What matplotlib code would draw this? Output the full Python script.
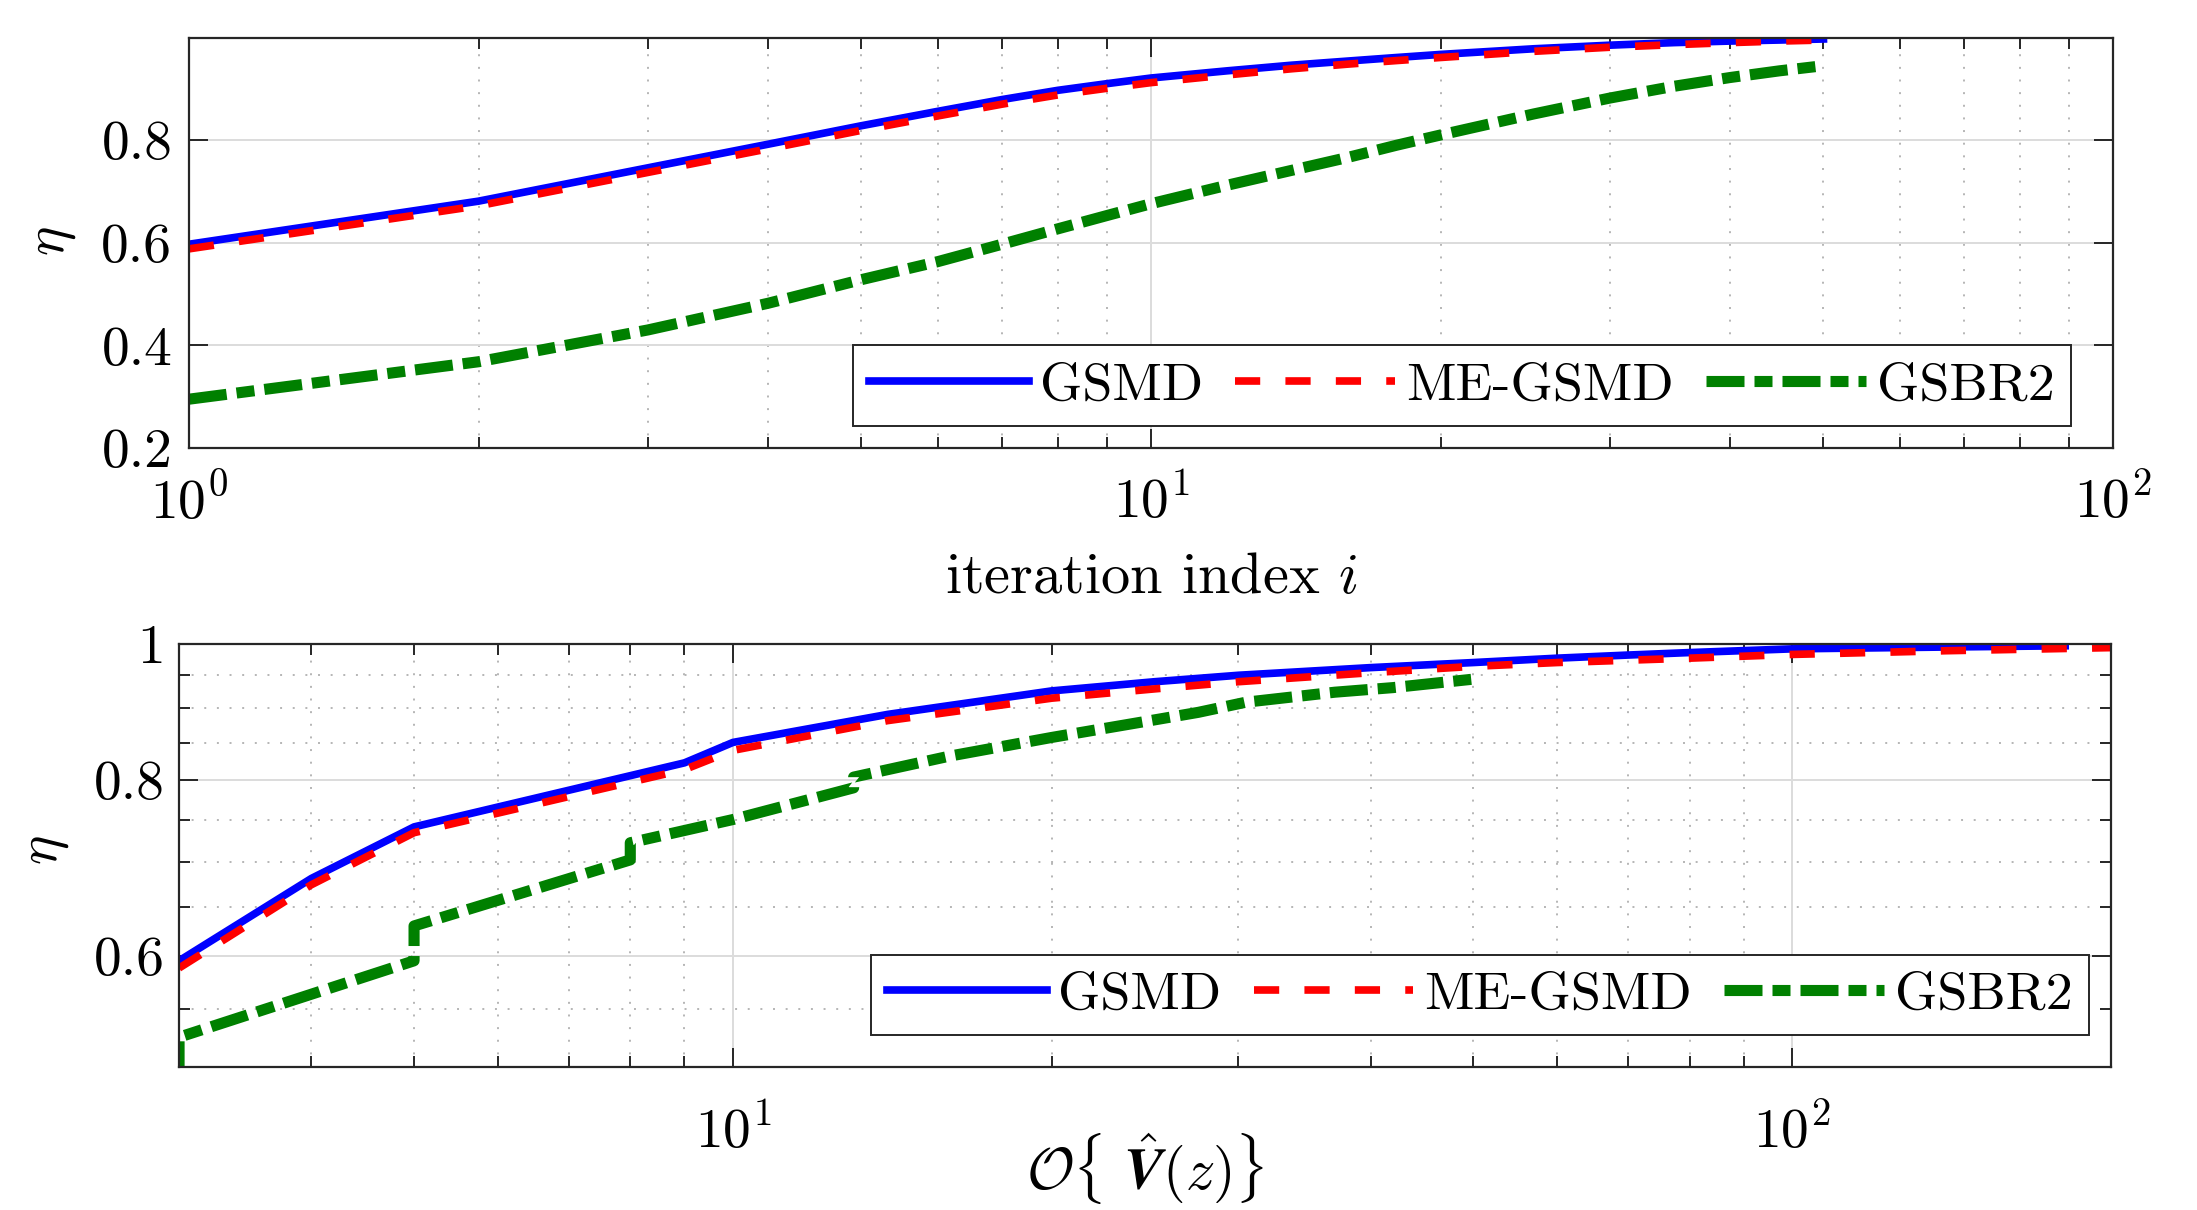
import matplotlib
matplotlib.use('Agg')
import matplotlib.pyplot as plt
from matplotlib.ticker import FixedLocator, NullFormatter, NullLocator

plt.rcParams['font.family'] = 'serif'
plt.rcParams['font.serif'] = ['cmr10']
plt.rcParams['mathtext.fontset'] = 'cm'
plt.rcParams['axes.formatter.use_mathtext'] = True
plt.rcParams['axes.unicode_minus'] = False

# --- upper panel: efficiency vs iteration index ---
iters = [1, 2, 3, 4, 5, 6, 7, 8, 9, 10, 12, 14, 16, 18, 20, 25, 30, 35, 40, 45, 50]
eta_gsmd_it = [0.597, 0.681, 0.746, 0.792, 0.828, 0.856, 0.879, 0.897, 0.910, 0.921,
               0.935, 0.946, 0.954, 0.961, 0.967, 0.978, 0.985, 0.990, 0.993, 0.995, 0.997]
eta_me_it = [0.588, 0.672, 0.737, 0.783, 0.819, 0.847, 0.870, 0.888, 0.901, 0.912,
             0.927, 0.939, 0.948, 0.955, 0.961, 0.973, 0.981, 0.986, 0.990, 0.993, 0.995]
eta_gsbr_it = [0.295, 0.368, 0.430, 0.482, 0.528, 0.563, 0.597, 0.627, 0.653, 0.676,
               0.712, 0.741, 0.766, 0.790, 0.810, 0.851, 0.882, 0.905, 0.922, 0.935, 0.945]

# --- lower panel: efficiency vs polynomial order ---
ord_gsmd = [3, 4, 5, 9, 10, 14, 20, 25, 30, 40, 50, 60, 70, 80, 100, 140, 181]
eta_gsmd_ord = [0.595, 0.681, 0.741, 0.823, 0.851, 0.891, 0.926, 0.940, 0.950, 0.962,
                0.970, 0.977, 0.982, 0.986, 0.992, 0.995, 0.997]
ord_me = [3, 4, 5, 9, 10, 14, 20, 25, 30, 40, 50, 60, 80, 100, 140, 200]
eta_me_ord = [0.588, 0.674, 0.734, 0.814, 0.840, 0.882, 0.915, 0.929, 0.940, 0.954,
              0.964, 0.970, 0.977, 0.983, 0.989, 0.994]
ord_gsbr = [3, 3, 5, 5, 8, 8, 10, 13, 13, 16, 20, 25, 27.5, 30.5, 37, 42, 50]
eta_gsbr_ord = [0.49, 0.525, 0.595, 0.630, 0.702, 0.722, 0.750, 0.790, 0.804, 0.832,
                0.858, 0.883, 0.894, 0.909, 0.924, 0.931, 0.944]

blue = '#0000ff'
red = '#ff0000'
green = '#008000'
fs_tick = 40
fs_leg = 39
fs_lab = 42

lw_main = 5.5
lw_green = 8
red_dash = (3.3, 3.3)
green_dash = (3.42, 0.9, 1.62, 0.9)


def style(ax):
    for s in ax.spines.values():
        s.set_linewidth(1.6)
        s.set_color('#262626')
    ax.set_axisbelow(True)
    ax.tick_params(which='both', direction='in', top=True, right=True,
                   color='#262626', width=1.4, labelsize=fs_tick)
    ax.tick_params(which='major', length=14)
    ax.tick_params(which='minor', length=8)


def add_legend(ax, anchor):
    leg = ax.legend(loc='lower right', bbox_to_anchor=anchor, ncol=3, fontsize=fs_leg,
                    handlelength=2.95, handletextpad=0.2, columnspacing=0.6, borderpad=0.3,
                    borderaxespad=0, fancybox=False, edgecolor='#262626', framealpha=1)
    leg.get_frame().set_linewidth(1.4)
    return leg


fig = plt.figure(figsize=(21.97, 12.10), dpi=100)
ax1 = fig.add_axes([0.0860, 0.6298, 0.8758, 0.3388])
ax2 = fig.add_axes([0.0815, 0.1182, 0.8794, 0.3496])

# upper
ax1.plot(iters, eta_gsmd_it, color=blue, lw=lw_main, label='GSMD')
ax1.plot(iters, eta_me_it, color=red, lw=lw_main, dashes=red_dash, label='ME-GSMD')
ax1.plot(iters, eta_gsbr_it, color=green, lw=lw_green, dashes=green_dash, label='GSBR2')
ax1.set_xscale('log')
ax1.set_xlim(1, 100)
ax1.set_ylim(0.2, 0.999)
ax1.set_yticks([0.2, 0.4, 0.6, 0.8])
ax1.set_yticklabels(['0.2', '0.4', '0.6', '0.8'])
ax1.yaxis.set_minor_locator(NullLocator())
ax1.xaxis.set_minor_formatter(NullFormatter())
style(ax1)
ax1.tick_params(axis='x', pad=19)
ax1.tick_params(axis='y', pad=12)
ax1.grid(which='major', color='#dcdcdc', lw=1.4, ls='-')
ax1.grid(which='minor', axis='x', color='#b5b5b5', lw=1.4, ls=(0, (1, 5.5)))
ax1.set_xlabel('iteration index $i$', fontsize=fs_lab)
ax1.xaxis.set_label_coords(0.5, -0.255)
ax1.set_ylabel(r'$\eta$', fontsize=40)
ax1.yaxis.set_label_coords(-0.0707, 0.505)
ax1.yaxis.label.set_va('center')
add_legend(ax1, (0.978, 0.054))

# lower
ax2.plot(ord_gsmd, eta_gsmd_ord, color=blue, lw=lw_main, label='GSMD')
ax2.plot(ord_me, eta_me_ord, color=red, lw=lw_main, dashes=red_dash, label='ME-GSMD')
ax2.plot(ord_gsbr, eta_gsbr_ord, color=green, lw=lw_green, dashes=green_dash, label='GSBR2')
ax2.set_xscale('log')
ax2.set_yscale('log')
ax2.set_xlim(3, 200)
ax2.set_ylim(0.5, 1.0)
ax2.yaxis.set_major_locator(FixedLocator([0.6, 0.8, 1.0]))
ax2.set_yticklabels(['0.6', '0.8', '1'])
ax2.yaxis.set_minor_locator(FixedLocator([0.5, 0.55, 0.65, 0.7, 0.75, 0.85, 0.9, 0.95]))
ax2.yaxis.set_minor_formatter(NullFormatter())
ax2.xaxis.set_minor_formatter(NullFormatter())
style(ax2)
ax2.tick_params(axis='x', pad=27)
ax2.tick_params(axis='y', pad=10)
ax2.grid(which='major', color='#dcdcdc', lw=1.4, ls='-')
ax2.grid(which='minor', color='#b5b5b5', lw=1.4, ls=(0, (1, 5.5)))
ax2.set_xlabel(r'$\mathcal{O}\{\ \hat{\boldsymbol{V}}(z)\}$', fontsize=fs_lab)
ax2.xaxis.set_label_coords(0.5212, 0.003, transform=fig.transFigure)
ax2.xaxis.label.set_va('bottom')
ax2.set_ylabel(r'$\eta$', fontsize=40)
ax2.yaxis.set_label_coords(-0.0688, 0.513)
ax2.yaxis.label.set_va('center')
add_legend(ax2, (0.9886, 0.0757))

fig.savefig('out.png', dpi=100)
